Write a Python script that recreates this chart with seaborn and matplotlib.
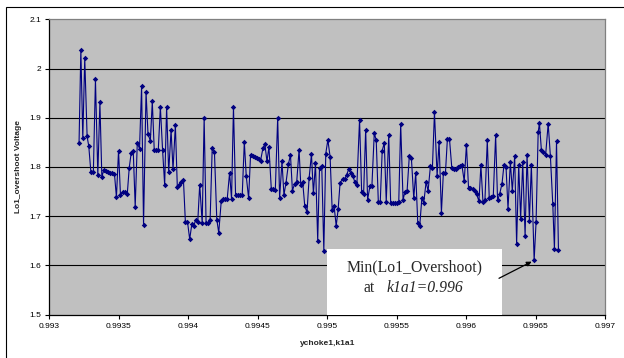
import matplotlib
matplotlib.use("Agg")
import matplotlib.pyplot as plt
import matplotlib.patches as mpatches
import seaborn as sns
import pandas as pd
import numpy as np

# ---------------- data ----------------
k1a1 = [
    0.993214, 0.993227, 0.993241, 0.993255, 0.993272, 0.993284, 0.993299, 0.993317,
    0.993332, 0.993349, 0.993364, 0.993378, 0.993392, 0.993407, 0.993421, 0.993436,
    0.993450, 0.993469, 0.993483, 0.993498, 0.993512, 0.993527, 0.993546, 0.993561,
    0.993575, 0.993589, 0.993604, 0.993618, 0.993633, 0.993649, 0.993664, 0.993678,
    0.993696, 0.993710, 0.993727, 0.993741, 0.993755, 0.993770, 0.993784, 0.993799,
    0.993815, 0.993830, 0.993844, 0.993859, 0.993876, 0.993890, 0.993907, 0.993921,
    0.993936, 0.993950, 0.993965, 0.993979, 0.993994, 0.994010, 0.994025, 0.994039,
    0.994053, 0.994068, 0.994082, 0.994100, 0.994114, 0.994128, 0.994143, 0.994157,
    0.994172, 0.994188, 0.994205, 0.994219, 0.994237, 0.994251, 0.994266, 0.994280,
    0.994297, 0.994311, 0.994325, 0.994340, 0.994356, 0.994371, 0.994388, 0.994403,
    0.994417, 0.994434, 0.994448, 0.994462, 0.994477, 0.994491, 0.994506, 0.994520,
    0.994537, 0.994551, 0.994566, 0.994580, 0.994597, 0.994612, 0.994626, 0.994643,
    0.994657, 0.994674, 0.994688, 0.994703, 0.994720, 0.994735, 0.994749, 0.994766,
    0.994780, 0.994797, 0.994809, 0.994823, 0.994838, 0.994854, 0.994869, 0.994886,
    0.994900, 0.994915, 0.994931, 0.994944, 0.994960, 0.994975, 0.994989, 0.995004,
    0.995020, 0.995035, 0.995049, 0.995064, 0.995078, 0.995092, 0.995110, 0.995124,
    0.995139, 0.995155, 0.995170, 0.995184, 0.995198, 0.995213, 0.995232, 0.995247,
    0.995261, 0.995276, 0.995290, 0.995307, 0.995321, 0.995338, 0.995352, 0.995367,
    0.995381, 0.995395, 0.995410, 0.995424, 0.995442, 0.995456, 0.995470, 0.995485,
    0.995499, 0.995514, 0.995528, 0.995545, 0.995559, 0.995574, 0.995590, 0.995605,
    0.995622, 0.995636, 0.995651, 0.995665, 0.995680, 0.995694, 0.995711, 0.995725,
    0.995742, 0.995756, 0.995771, 0.995790, 0.995804, 0.995821, 0.995835, 0.995850,
    0.995864, 0.995879, 0.995896, 0.995911, 0.995925, 0.995939, 0.995954, 0.995968,
    0.995985, 0.996001, 0.996016, 0.996030, 0.996045, 0.996059, 0.996074, 0.996091,
    0.996105, 0.996120, 0.996134, 0.996151, 0.996165, 0.996180, 0.996194, 0.996211,
    0.996225, 0.996240, 0.996257, 0.996271, 0.996286, 0.996300, 0.996317, 0.996331,
    0.996348, 0.996362, 0.996377, 0.996391, 0.996406, 0.996423, 0.996437, 0.996454,
    0.996468, 0.996488, 0.996502, 0.996517, 0.996526, 0.996540, 0.996555, 0.996571,
    0.996589, 0.996605, 0.996622, 0.996634, 0.996649, 0.996663,
]

overshoot = [
    1.849, 2.038, 1.858, 2.021, 1.862, 1.842, 1.790, 1.790,
    1.978, 1.784, 1.931, 1.780, 1.793, 1.791, 1.790, 1.788,
    1.787, 1.785, 1.738, 1.833, 1.743, 1.749, 1.748, 1.745,
    1.798, 1.828, 1.832, 1.719, 1.849, 1.837, 1.964, 1.682,
    1.953, 1.867, 1.853, 1.933, 1.834, 1.834, 1.834, 1.922,
    1.834, 1.763, 1.922, 1.789, 1.875, 1.795, 1.885, 1.759,
    1.764, 1.770, 1.774, 1.688, 1.689, 1.653, 1.683, 1.679,
    1.693, 1.688, 1.764, 1.686, 1.900, 1.685, 1.685, 1.693,
    1.838, 1.831, 1.693, 1.666, 1.731, 1.734, 1.734, 1.735,
    1.788, 1.735, 1.922, 1.743, 1.743, 1.743, 1.743, 1.851,
    1.781, 1.736, 1.825, 1.822, 1.821, 1.819, 1.817, 1.813,
    1.838, 1.846, 1.811, 1.841, 1.756, 1.755, 1.753, 1.900,
    1.737, 1.811, 1.743, 1.768, 1.805, 1.825, 1.752, 1.766,
    1.770, 1.835, 1.763, 1.769, 1.720, 1.708, 1.777, 1.826,
    1.746, 1.807, 1.650, 1.798, 1.802, 1.630, 1.827, 1.855,
    1.821, 1.713, 1.720, 1.680, 1.714, 1.768, 1.775, 1.775,
    1.784, 1.796, 1.787, 1.782, 1.769, 1.764, 1.896, 1.750,
    1.744, 1.876, 1.733, 1.762, 1.762, 1.869, 1.854, 1.729,
    1.729, 1.833, 1.849, 1.729, 1.865, 1.726, 1.726, 1.726,
    1.727, 1.728, 1.887, 1.733, 1.750, 1.751, 1.822, 1.818,
    1.736, 1.788, 1.685, 1.680, 1.736, 1.727, 1.770, 1.751,
    1.802, 1.797, 1.911, 1.782, 1.851, 1.707, 1.788, 1.788,
    1.857, 1.857, 1.797, 1.795, 1.795, 1.799, 1.801, 1.804,
    1.771, 1.845, 1.758, 1.758, 1.755, 1.752, 1.745, 1.730,
    1.803, 1.728, 1.732, 1.854, 1.737, 1.738, 1.740, 1.864,
    1.732, 1.745, 1.766, 1.804, 1.799, 1.715, 1.810, 1.751,
    1.822, 1.643, 1.804, 1.695, 1.809, 1.660, 1.825, 1.691,
    1.804, 1.610, 1.688, 1.870, 1.889, 1.835, 1.830, 1.825,
    1.888, 1.822, 1.725, 1.633, 1.852, 1.631,
]

x_ticks = [0.993, 0.9935, 0.994, 0.9945, 0.995, 0.9955, 0.996, 0.9965, 0.997]
x_tick_labels = ["0.993", "0.9935", "0.994", "0.9945", "0.995", "0.9955",
                 "0.996", "0.9965", "0.997"]
y_ticks = [1.5, 1.6, 1.7, 1.8, 1.9, 2.0, 2.1]
y_tick_labels = ["1.5", "1.6", "1.7", "1.8", "1.9", "2", "2.1"]

x_label = "ychoke1,k1a1"
y_label = "Lo1_overshoot Voltage"
note_line1 = "Min(Lo1_Overshoot)"
note_at = "at"
note_val = "k1a1=0.996"

df = pd.DataFrame({"k1a1": k1a1, "overshoot": overshoot})

# ---------------- style ----------------
sns.set_style("ticks", {"axes.facecolor": "#C0C0C0"})
plt.rcParams["font.family"] = ["Liberation Sans", "DejaVu Sans"]

fig = plt.figure(figsize=(6.24, 3.58), dpi=100)
ax = fig.add_axes([49.3 / 624, 1 - 314.5 / 358, (605.3 - 49.3) / 624, (314.5 - 19.3) / 358])
ax.set_facecolor("#C0C0C0")

# outer chart border
fig.patches.append(mpatches.Rectangle((6 / 624, -0.1), 1.2, 0.1 + (1 - 7 / 358),
                                      transform=fig.transFigure, fill=False,
                                      edgecolor="black", linewidth=0.8, zorder=0))

# horizontal gridlines
for yv in y_ticks[1:-1]:
    ax.axhline(yv, color="black", linewidth=0.8, zorder=1)

sns.lineplot(data=df, x="k1a1", y="overshoot", ax=ax, color="#000080",
             linewidth=0.8, marker="D", markersize=2.8, markeredgewidth=0,
             sort=False, estimator=None, zorder=3)

ax.set_xlim(0.993, 0.997)
ax.set_ylim(1.5, 2.1)
ax.set_xticks(x_ticks)
ax.set_xticklabels(x_tick_labels)
ax.set_yticks(y_ticks)
ax.set_yticklabels(y_tick_labels)
ax.tick_params(axis="both", direction="out", length=3, width=0.8,
               labelsize=6, colors="black", pad=3)
ax.grid(False)

for side in ["left", "bottom"]:
    ax.spines[side].set_color("black")
    ax.spines[side].set_linewidth(0.9)
for side in ["top", "right"]:
    ax.spines[side].set_visible(True)
    ax.spines[side].set_color("#808080")
    ax.spines[side].set_linewidth(0.9)

ax.set_xlabel(x_label, fontsize=6, fontweight="bold", labelpad=7)
ax.set_ylabel(y_label, fontsize=6, fontweight="bold", labelpad=5)

# annotation box
box = mpatches.Rectangle(((327 - 49.3) / 556, 0.0), (502 - 327) / 556,
                         (314.5 - 249.3) / 295.2, transform=ax.transAxes,
                         facecolor="white", edgecolor="none", zorder=4)
ax.add_patch(box)
serif = ["Liberation Serif", "DejaVu Serif"]
ax.text((414.5 - 49.3) / 556, (314.5 - 267) / 295.2, note_line1,
        transform=ax.transAxes, ha="center", va="center", fontsize=11.3,
        family=serif, zorder=5)
ax.text((364 - 49.3) / 556, (314.5 - 288.5) / 295.2, note_at,
        transform=ax.transAxes, ha="left", va="center", fontsize=11.3,
        family=serif, zorder=5)
ax.text((386.7 - 49.3) / 556, (314.5 - 288.5) / 295.2, note_val,
        transform=ax.transAxes, ha="left", va="center", fontsize=11.3,
        family=serif, style="italic", zorder=5)

imin = int(np.argmin(overshoot))
ax.annotate("", xy=(k1a1[imin], overshoot[imin]), xycoords="data",
            xytext=((499 - 49.3) / 556, (314.5 - 278.3) / 295.2),
            textcoords="axes fraction",
            arrowprops=dict(arrowstyle="-|>", color="black", lw=0.9,
                            mutation_scale=7, shrinkA=0, shrinkB=2),
            zorder=6)

fig.savefig("out.png", dpi=100, facecolor="white")
